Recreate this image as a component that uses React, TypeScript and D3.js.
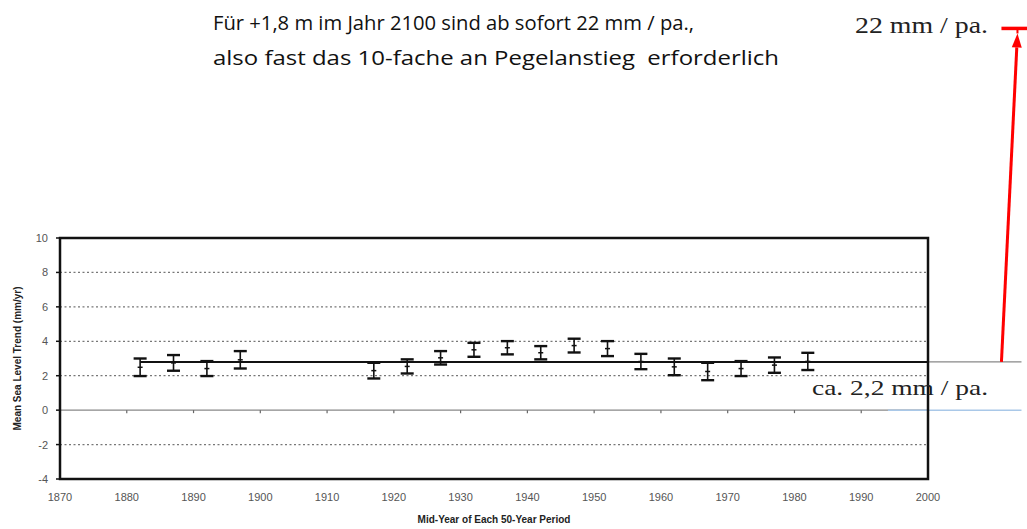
import React from "react";
import * as d3 from "d3";

const years = [1882, 1887, 1892, 1897, 1917, 1922, 1927, 1932, 1937, 1942, 1947, 1952, 1957, 1962, 1967, 1972, 1977, 1982];
const upper = [3.0, 3.2, 2.85, 3.43, 2.75, 2.95, 3.43, 3.91, 4.01, 3.72, 4.15, 4.01, 3.27, 3.0, 2.75, 2.85, 3.06, 3.33];
const lower = [1.98, 2.29, 1.98, 2.42, 1.84, 2.13, 2.65, 3.1, 3.24, 2.95, 3.35, 3.14, 2.38, 2.03, 1.74, 1.98, 2.17, 2.33];
const xTicks = [1870, 1880, 1890, 1900, 1910, 1920, 1930, 1940, 1950, 1960, 1970, 1980, 1990, 2000];
const yTicks = [-4, -2, 0, 2, 4, 6, 8, 10];
const gridValues = [-2, 2, 4, 6, 8];
const trendValue = 2.8;
const trendStart = 1882;
const extendYear = 2014;
const blueStart = 1994;
const targetValue = 22;
const arrowBaseYear = 2011;
const arrowTipYear = 2013.4;
const capYears = [2011, 2015];

const titleLines = [
  "Für +1,8 m im Jahr 2100 sind ab sofort 22 mm / pa.,",
  "also fast das 10-fache an Pegelanstieg  erforderlich",
];

export default function App() {
  const W = 1027, H = 529;
  const left = 60, right = 928, top = 238, bottom = 479;
  const x = d3.scaleLinear().domain([1870, 2000]).range([left, right]);
  const y = d3.scaleLinear().domain([-4, 10]).range([bottom, top]);
  const yTrend = y(trendValue);
  const capW = 6.5;

  const tipX = x(arrowTipYear), tipY = y(targetValue) + 2;
  const baseX = x(arrowBaseYear), baseY = yTrend;
  const ang = Math.atan2(tipY - baseY, tipX - baseX);
  const ah = 14, aw = 5;
  const hx = tipX - ah * Math.cos(ang), hy = tipY - ah * Math.sin(ang);
  const px = -Math.sin(ang) * aw, py = Math.cos(ang) * aw;

  return (
    <svg width={W} height={H} style={{ position: "absolute", left: 0, top: 0, background: "#fff" }}>
      <rect x={0} y={0} width={W} height={H} fill="#fff" />
      {/* title text */}
      <text x={213} y={30} fontFamily="'Open Sans', 'Noto Sans', sans-serif" fontSize={20.5} fill="#111"
        textLength={481} lengthAdjust="spacingAndGlyphs" style={{ whiteSpace: "pre" }}>{titleLines[0]}</text>
      <text x={213} y={65} fontFamily="'Open Sans', 'Noto Sans', sans-serif" fontSize={20.5} fill="#111"
        textLength={566} lengthAdjust="spacingAndGlyphs" style={{ whiteSpace: "pre" }}>{titleLines[1]}</text>
      <text x={855} y={33} fontFamily="'Liberation Serif', 'DejaVu Serif', serif" fontSize={23} fill="#222"
        textLength={133} lengthAdjust="spacingAndGlyphs">22 mm / pa.</text>

      {/* grid */}
      {gridValues.map((v) => (
        <line key={v} x1={left} x2={right} y1={y(v)} y2={y(v)} stroke="#777" strokeWidth={1.3} strokeDasharray="2,2.5" />
      ))}
      {/* zero line */}
      <line x1={left} x2={right} y1={y(0)} y2={y(0)} stroke="#888" strokeWidth={1.3} />
      {xTicks.slice(1, -1).map((t) => (
        <line key={t} x1={x(t)} x2={x(t)} y1={y(0)} y2={y(0) + 3} stroke="#666" strokeWidth={1.2} />
      ))}
      {/* blue zero extension */}
      <line x1={x(blueStart)} x2={x(extendYear)} y1={y(0)} y2={y(0)} stroke="#a9c8e8" strokeWidth={1.5} />

      {/* trend line */}
      <line x1={x(trendStart)} x2={right} y1={yTrend} y2={yTrend} stroke="#111" strokeWidth={2} />
      <line x1={right} x2={x(extendYear)} y1={yTrend} y2={yTrend} stroke="#888" strokeWidth={1.3} />

      {/* error bars */}
      {years.map((yr, i) => {
        const cx = x(yr);
        const yt = y(upper[i]), yb = y(lower[i]);
        const ym = (yt + yb) / 2;
        return (
          <g key={yr} stroke="#111">
            <line x1={cx} x2={cx} y1={yt} y2={yb} strokeWidth={1.6} />
            <line x1={cx - capW} x2={cx + capW} y1={yt} y2={yt} strokeWidth={2.4} />
            <line x1={cx - capW} x2={cx + capW} y1={yb} y2={yb} strokeWidth={2.4} />
            <line x1={cx - 2.5} x2={cx + 2.5} y1={ym} y2={ym} strokeWidth={1.5} />
          </g>
        );
      })}

      {/* frame */}
      <rect x={left} y={top} width={right - left} height={bottom - top} fill="none" stroke="#111" strokeWidth={2.5} />
      {yTicks.map((t) => (
        <line key={t} x1={left - 4} x2={left} y1={y(t)} y2={y(t)} stroke="#111" strokeWidth={1.5} />
      ))}

      {/* tick labels */}
      {yTicks.map((t) => (
        <text key={t} x={48} y={y(t) + 4} textAnchor="end" fontFamily="'Liberation Sans', Arial, sans-serif"
          fontSize={11} fill="#555">{t}</text>
      ))}
      {xTicks.map((t) => (
        <text key={t} x={x(t)} y={501} textAnchor="middle" fontFamily="'Liberation Sans', Arial, sans-serif"
          fontSize={11} fill="#555">{t}</text>
      ))}

      {/* axis titles */}
      <text x={(left + right) / 2} y={523} textAnchor="middle" fontFamily="'Liberation Sans', Arial, sans-serif"
        fontSize={10} fontWeight="bold" fill="#222">Mid-Year of Each 50-Year Period</text>
      <text transform={`translate(21, ${(top + bottom) / 2}) rotate(-90)`} textAnchor="middle"
        fontFamily="'Liberation Sans', Arial, sans-serif" fontSize={10} fontWeight="bold" fill="#222">
        Mean Sea Level Trend (mm/yr)
      </text>

      {/* annotation */}
      <text x={812} y={395} fontFamily="'Liberation Serif', 'DejaVu Serif', serif" fontSize={22} fill="#222"
        textLength={176} lengthAdjust="spacingAndGlyphs">ca. 2,2 mm / pa.</text>

      {/* red arrow */}
      <line x1={baseX} y1={baseY} x2={hx} y2={hy} stroke="#f00" strokeWidth={3} />
      <path d={`M${tipX},${tipY} L${hx + px},${hy + py} L${hx - px},${hy - py} Z`} fill="#f00" />
      <line x1={tipX} y1={tipY} x2={tipX} y2={y(targetValue) - 2} stroke="#f00" strokeWidth={2} />
      <line x1={x(capYears[0])} x2={x(capYears[1])} y1={y(targetValue) - 3} y2={y(targetValue) - 3} stroke="#f00" strokeWidth={3.5} />
    </svg>
  );
}
